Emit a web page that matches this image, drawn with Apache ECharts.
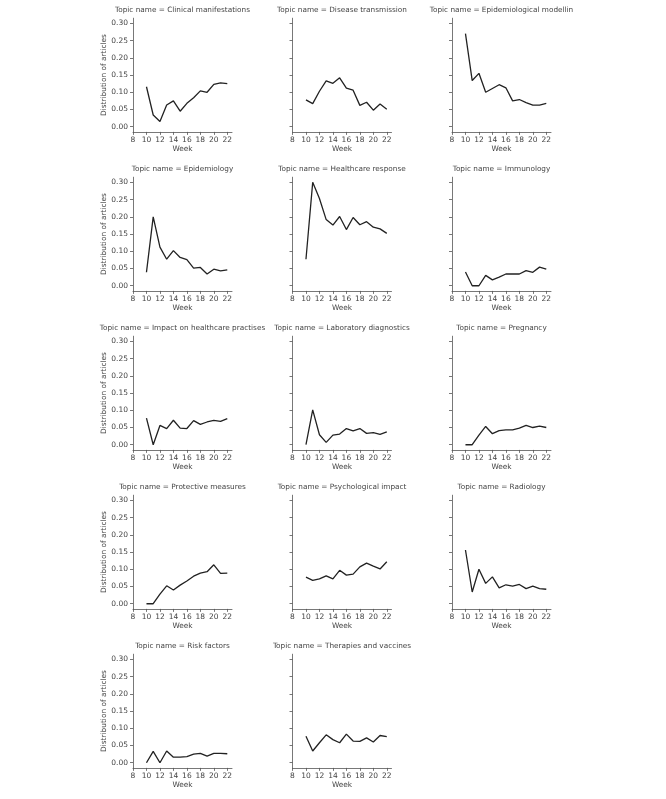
<!DOCTYPE html>
<html>
<head>
<meta charset="utf-8">
<script src="https://cdn.jsdelivr.net/npm/echarts@6.0.0/dist/echarts.min.js"></script>
<style>
  html, body { margin: 0; padding: 0; background: #fff; }
  #chart { width: 666px; height: 799px; }
</style>
</head>
<body>
<div id="chart"></div>
<script>
// weeks and tick values
var weeks = [10, 11, 12, 13, 14, 15, 16, 17, 18, 19, 20, 21, 22];
var xTicks = [8, 10, 12, 14, 16, 18, 20, 22];
var yTicks = [0, 0.05, 0.1, 0.15, 0.2, 0.25, 0.3];

var topicNames = [
    "Clinical manifestations", "Disease transmission", "Epidemiological modellin",
    "Epidemiology", "Healthcare response", "Immunology",
    "Impact on healthcare practises", "Laboratory diagnostics", "Pregnancy",
    "Protective measures", "Psychological impact", "Radiology",
    "Risk factors", "Therapies and vaccines"
];

// distribution of articles per week, one array per topic
var clinical = [0.116, 0.034, 0.015, 0.063, 0.075, 0.045, 0.068, 0.084, 0.104, 0.100, 0.123, 0.127, 0.125];
var transmission = [0.078, 0.067, 0.103, 0.133, 0.126, 0.142, 0.112, 0.106, 0.062, 0.071, 0.048, 0.066, 0.051];
var modelling = [0.270, 0.134, 0.155, 0.100, 0.111, 0.122, 0.113, 0.075, 0.079, 0.070, 0.063, 0.063, 0.068];
var epidemiology = [0.039, 0.200, 0.112, 0.077, 0.102, 0.082, 0.076, 0.051, 0.053, 0.034, 0.048, 0.043, 0.046];
var healthcareResponse = [0.077, 0.300, 0.253, 0.192, 0.176, 0.201, 0.163, 0.198, 0.177, 0.186, 0.170, 0.165, 0.152];
var immunology = [0.040, 0, 0, 0.030, 0.017, 0.025, 0.034, 0.034, 0.034, 0.044, 0.039, 0.054, 0.048];
var impactPractises = [0.077, 0, 0.056, 0.047, 0.071, 0.048, 0.047, 0.070, 0.059, 0.066, 0.071, 0.068, 0.076];
var labDiagnostics = [0, 0.101, 0.029, 0.007, 0.028, 0.031, 0.047, 0.040, 0.047, 0.033, 0.035, 0.030, 0.037];
var pregnancy = [0, 0, 0.028, 0.053, 0.032, 0.041, 0.043, 0.043, 0.048, 0.056, 0.050, 0.054, 0.050];
var protective = [0, 0, 0.028, 0.052, 0.040, 0.054, 0.066, 0.080, 0.089, 0.093, 0.113, 0.088, 0.089];
var psychological = [0.077, 0.068, 0.072, 0.081, 0.072, 0.097, 0.083, 0.086, 0.107, 0.118, 0.109, 0.101, 0.122];
var radiology = [0.156, 0.034, 0.100, 0.059, 0.078, 0.046, 0.055, 0.051, 0.056, 0.044, 0.051, 0.044, 0.042];
var riskFactors = [0, 0.033, 0, 0.034, 0.016, 0.016, 0.018, 0.025, 0.027, 0.019, 0.027, 0.027, 0.026];
var therapies = [0.077, 0.034, 0.058, 0.081, 0.067, 0.058, 0.083, 0.063, 0.062, 0.072, 0.060, 0.079, 0.076];

var topicValues = [clinical, transmission, modelling, epidemiology, healthcareResponse, immunology,
    impactPractises, labDiagnostics, pregnancy, protective, psychological, radiology,
    riskFactors, therapies];

var chart = echarts.init(document.getElementById("chart"), null, {renderer: "canvas"});

var font = "DejaVu Sans";
var textColor = "#444";
var axisColor = "#555";
var colLeft = [133, 292.5, 452];
var gridW = 99, gridH = 113.7;

var grids = [], xAxes = [], yAxes = [], series = [], titles = [];

topicNames.forEach(function (name, i) {
    var row = Math.floor(i / 3), col = i % 3;
    var top = 18.2 + 159 * row;
    grids.push({left: colLeft[col], top: top, width: gridW, height: gridH, containLabel: false});
    titles.push({
        text: "Topic name = " + name,
        left: colLeft[col] + gridW / 2,
        top: top - 11.3,
        textAlign: "center",
        padding: 0,
        textStyle: {fontFamily: font, fontSize: 7.3, fontWeight: "normal", color: textColor}
    });
    xAxes.push({
        gridIndex: i,
        type: "value",
        min: 8,
        max: 22.7,
        name: "Week",
        nameLocation: "middle",
        nameGap: 14,
        nameTextStyle: {fontFamily: font, fontSize: 7.4, color: textColor},
        axisLine: {onZero: false, lineStyle: {color: axisColor, width: 0.8}},
        axisTick: {show: true, length: 3, customValues: xTicks, lineStyle: {color: axisColor, width: 0.8}},
        axisLabel: {customValues: xTicks, margin: 4, fontFamily: font, fontSize: 7.5, color: textColor},
        splitLine: {show: false}
    });
    yAxes.push({
        gridIndex: i,
        type: "value",
        min: -0.015,
        max: 0.315,
        name: col === 0 ? "Distribution of articles" : "",
        nameLocation: "middle",
        nameGap: 25,
        nameTextStyle: {fontFamily: font, fontSize: 7.4, color: textColor},
        axisLine: {show: true, onZero: false, lineStyle: {color: axisColor, width: 0.8}},
        axisTick: {show: true, length: 3, customValues: yTicks, lineStyle: {color: axisColor, width: 0.8}},
        axisLabel: {
            show: col === 0,
            customValues: yTicks,
            margin: 5,
            fontFamily: font, fontSize: 7.5, color: textColor,
            formatter: function (v) { return v.toFixed(2); }
        },
        splitLine: {show: false}
    });
    series.push({
        type: "line",
        xAxisIndex: i,
        yAxisIndex: i,
        data: weeks.map(function (w, k) { return [w, topicValues[i][k]]; }),
        showSymbol: false,
        lineStyle: {color: "#222", width: 1.3},
        itemStyle: {color: "#222"}
    });
});

chart.setOption({
    animation: false,
    backgroundColor: "#fff",
    title: titles,
    grid: grids,
    xAxis: xAxes,
    yAxis: yAxes,
    series: series
});
</script>
</body>
</html>
